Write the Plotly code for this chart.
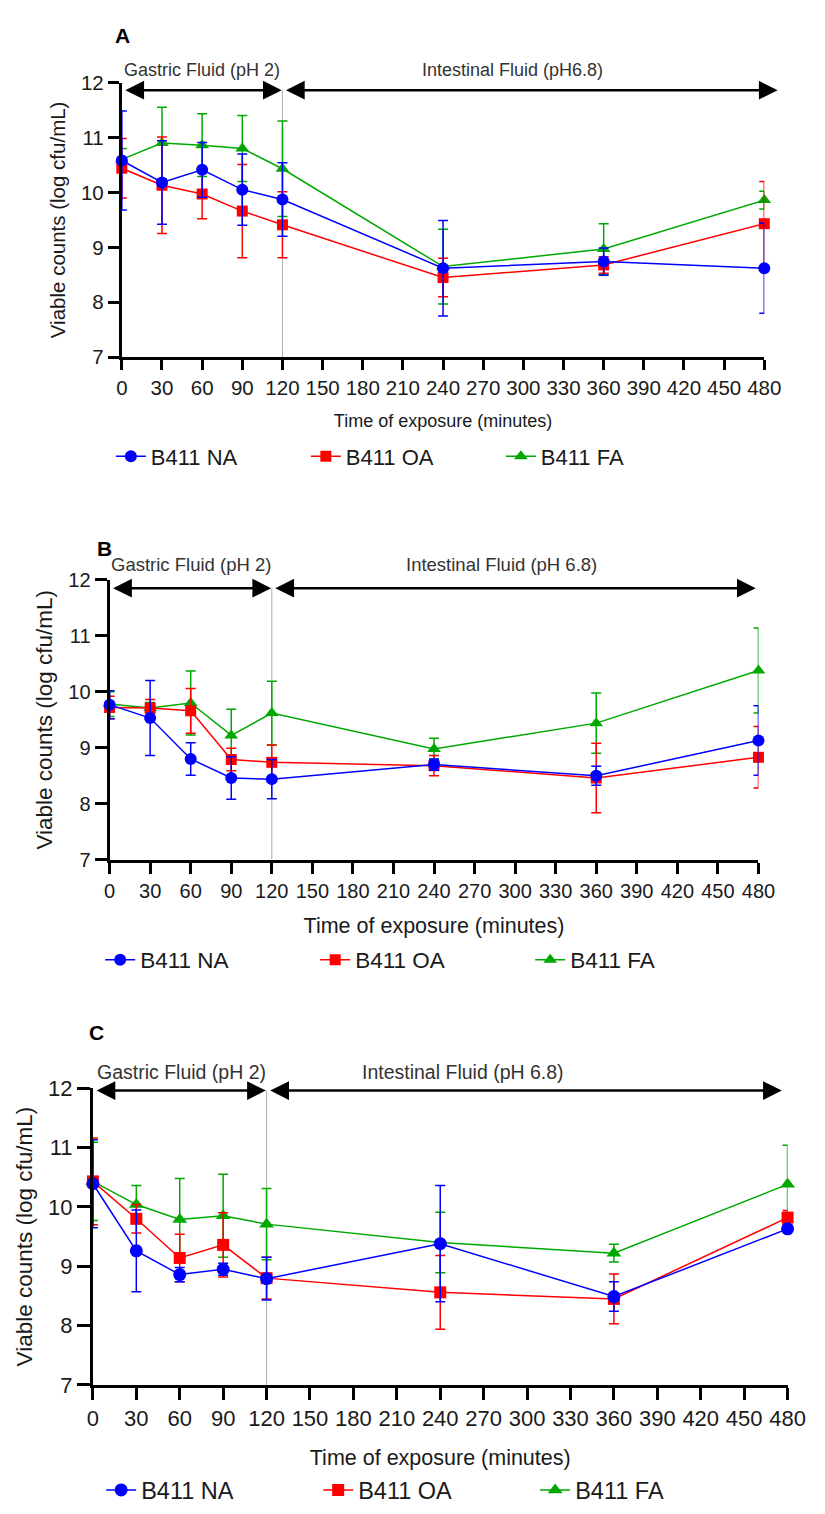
import plotly.graph_objects as go

# ---------------- data ----------------
times = [0, 30, 60, 90, 120, 240, 360, 480]
x_ticks = list(range(0, 481, 30))
series_names = ["B411 NA", "B411 OA", "B411 FA"]

# Panel A
na_A = [10.58, 10.18, 10.41, 10.05, 9.87, 8.62, 8.74, 8.62]
na_A_err = [0.90, 0.76, 0.50, 0.65, 0.67, 0.87, 0.25, 0.82]
oa_A = [10.44, 10.13, 9.97, 9.66, 9.41, 8.45, 8.68, 9.43]
oa_A_err = [0.54, 0.88, 0.45, 0.85, 0.60, 0.35, 0.15, 0.77]
fa_A = [10.60, 10.90, 10.86, 10.80, 10.43, 8.65, 8.97, 9.86]
fa_A_err = [0.20, 0.65, 0.57, 0.60, 0.87, 0.68, 0.46, 0.16]

# Panel B
na_B = [9.77, 9.53, 8.80, 8.46, 8.44, 8.70, 8.50, 9.13]
na_B_err = [0.25, 0.67, 0.29, 0.38, 0.35, 0.10, 0.17, 0.62]
oa_B = [9.72, 9.71, 9.66, 8.79, 8.74, 8.68, 8.46, 8.83]
oa_B_err = [0.20, 0.15, 0.40, 0.20, 0.31, 0.18, 0.62, 0.55]
fa_B = [9.78, 9.71, 9.80, 9.22, 9.62, 8.98, 9.44, 10.38]
fa_B_err = [0.22, 0.10, 0.57, 0.47, 0.57, 0.19, 0.54, 0.76]

# Panel C
na_C = [10.39, 9.26, 8.86, 8.95, 8.79, 9.38, 8.49, 9.63]
na_C_err = [0.74, 0.69, 0.12, 0.10, 0.36, 0.98, 0.25, 0.05]
oa_C = [10.43, 9.80, 9.14, 9.36, 8.80, 8.56, 8.45, 9.82]
oa_C_err = [0.73, 0.24, 0.40, 0.54, 0.35, 0.62, 0.42, 0.12]
fa_C = [10.43, 10.04, 9.79, 9.85, 9.71, 9.40, 9.22, 10.38]
fa_C_err = [0.66, 0.32, 0.69, 0.70, 0.60, 0.51, 0.15, 0.66]

gastric_labels = ["Gastric Fluid (pH 2)", "Gastric Fluid (pH 2)", "Gastric Fluid (pH 2)"]
intestinal_labels = ["Intestinal Fluid (pH6.8)", "Intestinal Fluid (pH 6.8)", "Intestinal Fluid (pH 6.8)"]
panel_letters = ["A", "B", "C"]

# ---------------- styling ----------------
W, H = 825, 1514
FONT = "Liberation Sans, Arial, sans-serif"
colors = {"B411 NA": "#0000FF", "B411 OA": "#FF0000", "B411 FA": "#00A800"}
symbols = {"B411 NA": "circle", "B411 OA": "square", "B411 FA": "triangle-up"}

panels = [
    dict(vals={"B411 NA": (na_A, na_A_err), "B411 OA": (oa_A, oa_A_err), "B411 FA": (fa_A, fa_A_err)},
         px=(119.3, 781), py=(351, 71.7), tick=20.5, xticklen=10, yticklen=11,
         legend_y=452, legend_x=108, entry=150, leg_size=22,
         arrow_y=11.86, a_right=490, lab_py=59, gx=60, ix=292, lab_size=18,
         letter=(120, 24), xtitle=18, xstand=17, ytitle=20.5, msz=12),
    dict(vals={"B411 NA": (na_B, na_B_err), "B411 OA": (oa_B, oa_B_err), "B411 FA": (fa_B, fa_B_err)},
         px=(106.7, 775), py=(862, 577.3), tick=20, xticklen=11, yticklen=12,
         legend_y=964, legend_x=97, entry=170, leg_size=22.5,
         arrow_y=11.85, a_right=478, lab_py=561.7, gx=60, ix=290, lab_size=18.5,
         letter=(101.7, 546), xtitle=21.5, xstand=18, ytitle=22.5, msz=12),
    dict(vals={"B411 NA": (na_C, na_C_err), "B411 OA": (oa_C, oa_C_err), "B411 FA": (fa_C, fa_C_err)},
         px=(89.5, 805), py=(1396, 1094.3), tick=22, xticklen=12, yticklen=13,
         legend_y=1503, legend_x=98, entry=172, leg_size=23.5,
         arrow_y=11.96, a_right=476, lab_py=1078.3, gx=61, ix=256, lab_size=19.5,
         letter=(92.7, 1038), xtitle=21.5, xstand=20, ytitle=22.5, msz=13),
]

fig = go.Figure()
annotations = []
shapes = []
layout = {}

draw_order = ["B411 FA", "B411 OA", "B411 NA"]
rank = {"B411 NA": 1, "B411 OA": 2, "B411 FA": 3}

for i, p in enumerate(panels):
    n = i + 1
    xa = "x" if n == 1 else f"x{n}"
    ya = "y" if n == 1 else f"y{n}"
    leg = "legend" if n == 1 else f"legend{n}"
    for name in draw_order:
        v, e = p["vals"][name]
        size = p["msz"] - (1 if name == "B411 OA" else 0)
        fig.add_trace(go.Scatter(
            x=times, y=v, name=name, mode="lines+markers",
            xaxis=xa, yaxis=ya, legend=leg, legendrank=rank[name],
            line=dict(color=colors[name], width=1.5),
            marker=dict(symbol=symbols[name], size=size, color=colors[name]),
            error_y=dict(type="data", array=e, visible=True, color=colors[name], thickness=1.5, width=5),
            cliponaxis=False,
        ))
    x0, x1 = p["px"][0] / W, p["px"][1] / W
    y0, y1 = 1 - p["py"][0] / H, 1 - p["py"][1] / H
    axis_common = dict(showline=True, linewidth=3, linecolor="black", ticks="outside",
                       tickwidth=3, tickcolor="black", showgrid=False, zeroline=False,
                       tickfont=dict(family=FONT, size=p["tick"], color="#1a1a1a"))
    layout["xaxis" if n == 1 else f"xaxis{n}"] = dict(
        domain=[x0, x1], range=[0, 480], tickvals=x_ticks, ticklen=p["xticklen"],
        anchor=ya, title=dict(text="Time of exposure (minutes)", standoff=p["xstand"],
                              font=dict(family=FONT, size=p["xtitle"], color="#1a1a1a")),
        **axis_common)
    layout["yaxis" if n == 1 else f"yaxis{n}"] = dict(
        domain=[y0, y1], range=[7, 12], tickvals=[7, 8, 9, 10, 11, 12], ticklen=p["yticklen"],
        anchor=xa, title=dict(text="Viable counts (log cfu/mL)", standoff=10,
                              font=dict(family=FONT, size=p["ytitle"], color="#1a1a1a")),
        **axis_common)
    layout[leg] = dict(orientation="h", x=p["legend_x"] / W, y=1 - p["legend_y"] / H,
                       xanchor="left", yanchor="middle", entrywidth=p["entry"],
                       entrywidthmode="pixels", traceorder="normal",
                       font=dict(family=FONT, size=p["leg_size"], color="#1a1a1a"),
                       bgcolor="rgba(0,0,0,0)")
    # vertical divider at 120 min
    shapes.append(dict(type="line", xref=xa, yref=ya, x0=120, x1=120, y0=7, y1=p["arrow_y"],
                       line=dict(color="#b0b0b0", width=1), layer="below"))
    # arrows
    for (xa0, xa1) in [(1.5, 119.5), (121.5, p["a_right"])]:
        annotations.append(dict(xref=xa, yref=ya, axref=xa, ayref=ya,
                                x=xa1, y=p["arrow_y"], ax=xa0, ay=p["arrow_y"], text="",
                                showarrow=True, arrowhead=2, startarrowhead=2,
                                arrowside="end+start", arrowsize=1.5, startarrowsize=1.5,
                                arrowwidth=2.5, arrowcolor="black"))
    # phase labels
    for lx, txt in [(p["gx"], gastric_labels[i]), (p["ix"], intestinal_labels[i])]:
        annotations.append(dict(xref=xa, yref="paper", x=lx, y=1 - p["lab_py"] / H,
                                xanchor="center", yanchor="middle", text=txt, showarrow=False,
                                font=dict(family=FONT, size=p["lab_size"], color="#333333")))
    # panel letter
    annotations.append(dict(xref="paper", yref="paper", x=p["letter"][0] / W, y=1 - p["letter"][1] / H,
                            xanchor="center", yanchor="middle",
                            text=f"<b>{panel_letters[i]}</b>", showarrow=False,
                            font=dict(family=FONT, size=21, color="black")))

fig.update_layout(
    width=W, height=H, margin=dict(l=0, r=0, t=0, b=0),
    paper_bgcolor="white", plot_bgcolor="white", hovermode=False,
    annotations=annotations, shapes=shapes, **layout,
)

fig.write_html("out.html", config={"displayModeBar": False, "staticPlot": True},
               post_script="document.body.style.margin='0';document.body.style.overflow='hidden';")
